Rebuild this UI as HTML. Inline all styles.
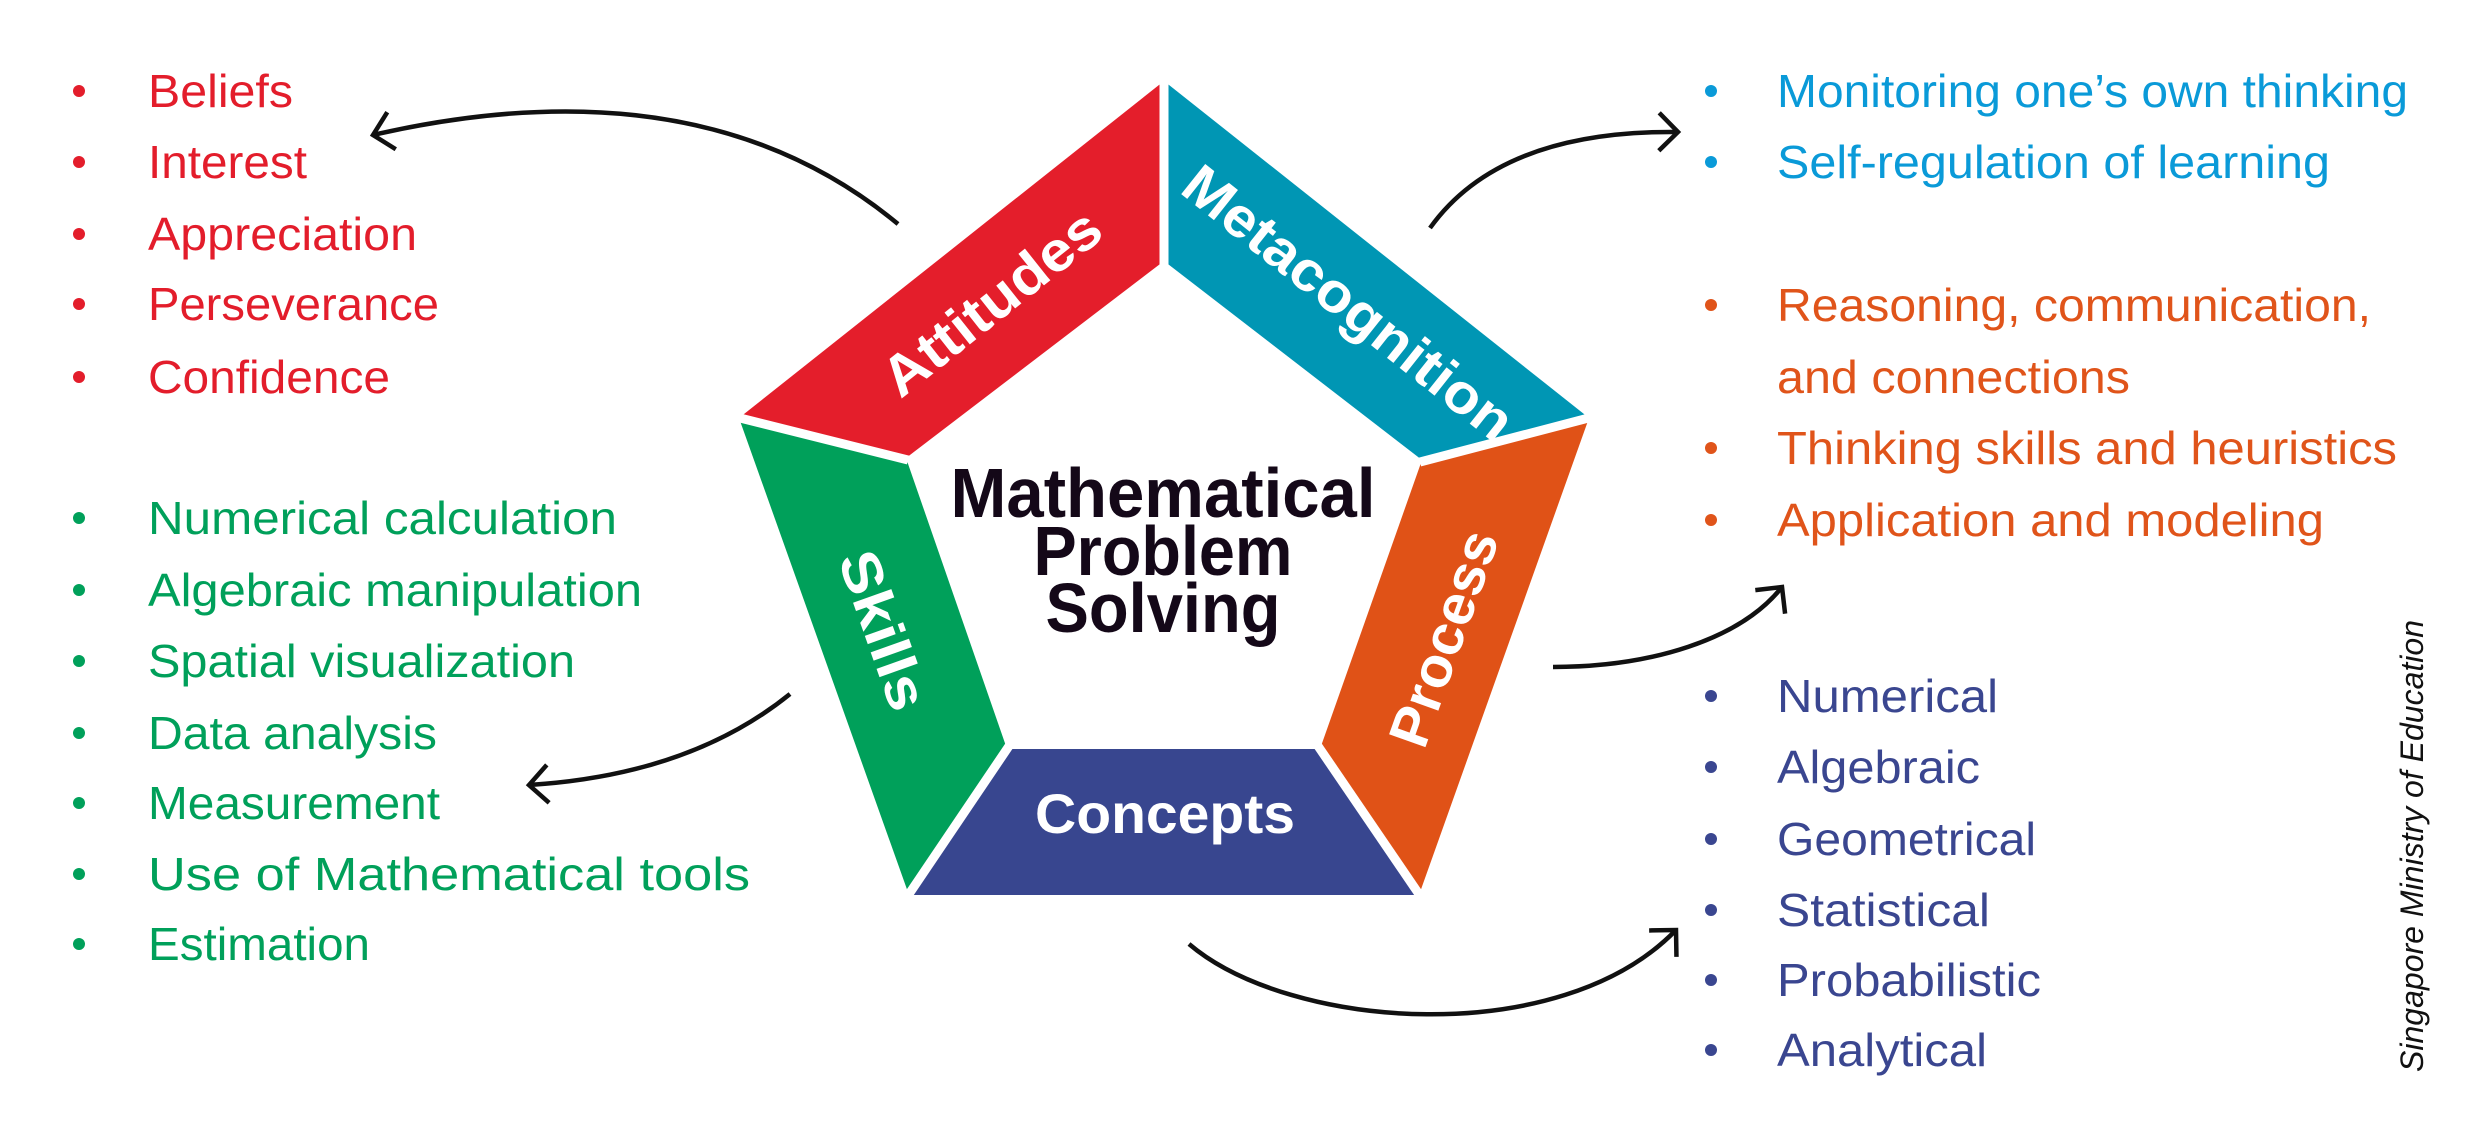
<!DOCTYPE html>
<html><head><meta charset="utf-8"><style>
html,body{margin:0;padding:0;background:#fff;}
svg{display:block;}
text{font-family:"Liberation Sans",sans-serif;}
.l{font-size:46px;}
.lab{font-size:56px;font-weight:bold;fill:#fff;}
</style></head><body>
<svg width="2479" height="1133" viewBox="0 0 2479 1133" xmlns="http://www.w3.org/2000/svg">
<defs>
<marker id="ah" markerUnits="userSpaceOnUse" markerWidth="60" markerHeight="60" refX="30" refY="30" orient="auto">
<path d="M11,11 L30,30 L11,49" fill="none" stroke="#111" stroke-width="4.5"/>
</marker>
</defs>
<polygon points="1164,81 739,418 906,458 1164,261" fill="#e41e2b"/>
<polygon points="1164,81 1589,418 1422,460 1164,261" fill="#0096b4"/>
<polygon points="1589,418 1419,895 1320,749 1422,460" fill="#e05217"/>
<polygon points="1419,895 909,895 1007,749 1320,749" fill="#38468f"/>
<polygon points="909,895 739,418 906,458 1007,749" fill="#00a05a"/>
<g stroke="#fff" stroke-width="9">
<line x1="1164" y1="70" x2="1164" y2="265"/>
<line x1="728" y1="415" x2="908" y2="460"/>
<line x1="1600" y1="415" x2="1420" y2="462"/>
<line x1="903" y1="903" x2="1009" y2="746"/>
<line x1="1425" y1="903" x2="1318" y2="746"/>
</g>
<text class="lab" text-anchor="middle" transform="translate(991,302) rotate(-38.5)" dy="20" textLength="263" lengthAdjust="spacingAndGlyphs">Attitudes</text>
<text class="lab" text-anchor="middle" transform="translate(1349,302) rotate(38.5)" dy="20" textLength="405" lengthAdjust="spacingAndGlyphs">Metacognition</text>
<text class="lab" text-anchor="middle" transform="translate(884,630) rotate(70.4)" dy="20" textLength="165" lengthAdjust="spacingAndGlyphs">Skills</text>
<text class="lab" text-anchor="middle" transform="translate(1443,638) rotate(-70.4)" dy="20" textLength="225" lengthAdjust="spacingAndGlyphs">Process</text>
<text class="lab" x="1165" y="833" text-anchor="middle" textLength="260" lengthAdjust="spacingAndGlyphs">Concepts</text>
<g fill="#140818" font-weight="bold" font-size="70" text-anchor="middle">
<text x="1163" y="517" textLength="425" lengthAdjust="spacingAndGlyphs">Mathematical</text>
<text x="1163" y="575" textLength="259" lengthAdjust="spacingAndGlyphs">Problem</text>
<text x="1163" y="632" textLength="235" lengthAdjust="spacingAndGlyphs">Solving</text>
</g>
<g fill="none" stroke="#111" stroke-width="4.5">
<path d="M898,224 Q700,60 373,135" marker-end="url(#ah)"/>
<path d="M790,694 Q690,775 529,785" marker-end="url(#ah)"/>
<path d="M1430,228 Q1500,130 1678,132" marker-end="url(#ah)"/>
<path d="M1553,667 C1650,667 1740,640 1782,587" marker-end="url(#ah)"/>
<path d="M1189,944 C1290,1030 1560,1050 1676,930" marker-end="url(#ah)"/>
</g>
<g fill="#e31d2b">
<circle cx="79" cy="91" r="6"/><circle cx="79" cy="162" r="6"/><circle cx="79" cy="234" r="6"/><circle cx="79" cy="304" r="6"/><circle cx="79" cy="377" r="6"/>
<text class="l" x="148" y="107" textLength="145" lengthAdjust="spacingAndGlyphs">Beliefs</text>
<text class="l" x="148" y="178" textLength="159" lengthAdjust="spacingAndGlyphs">Interest</text>
<text class="l" x="148" y="250" textLength="269" lengthAdjust="spacingAndGlyphs">Appreciation</text>
<text class="l" x="148" y="320" textLength="291" lengthAdjust="spacingAndGlyphs">Perseverance</text>
<text class="l" x="148" y="393" textLength="242" lengthAdjust="spacingAndGlyphs">Confidence</text>
</g>
<g fill="#00a05a">
<circle cx="79" cy="518" r="6"/><circle cx="79" cy="590" r="6"/><circle cx="79" cy="661" r="6"/><circle cx="79" cy="733" r="6"/><circle cx="79" cy="803" r="6"/><circle cx="79" cy="874" r="6"/><circle cx="79" cy="944" r="6"/>
<text class="l" x="148" y="534" textLength="469" lengthAdjust="spacingAndGlyphs">Numerical calculation</text>
<text class="l" x="148" y="606" textLength="494" lengthAdjust="spacingAndGlyphs">Algebraic manipulation</text>
<text class="l" x="148" y="677" textLength="427" lengthAdjust="spacingAndGlyphs">Spatial visualization</text>
<text class="l" x="148" y="749" textLength="289" lengthAdjust="spacingAndGlyphs">Data analysis</text>
<text class="l" x="148" y="819" textLength="292" lengthAdjust="spacingAndGlyphs">Measurement</text>
<text class="l" x="148" y="890" textLength="602" lengthAdjust="spacingAndGlyphs">Use of Mathematical tools</text>
<text class="l" x="148" y="960" textLength="222" lengthAdjust="spacingAndGlyphs">Estimation</text>
</g>
<g fill="#0a9ad8">
<circle cx="1711" cy="91" r="6"/><circle cx="1711" cy="162" r="6"/>
<text class="l" x="1777" y="107" textLength="631" lengthAdjust="spacingAndGlyphs">Monitoring one’s own thinking</text>
<text class="l" x="1777" y="178" textLength="553" lengthAdjust="spacingAndGlyphs">Self-regulation of learning</text>
</g>
<g fill="#e0541a">
<circle cx="1711" cy="305" r="6"/><circle cx="1711" cy="448" r="6"/><circle cx="1711" cy="520" r="6"/>
<text class="l" x="1777" y="321" textLength="594" lengthAdjust="spacingAndGlyphs">Reasoning, communication,</text>
<text class="l" x="1777" y="393" textLength="353" lengthAdjust="spacingAndGlyphs">and connections</text>
<text class="l" x="1777" y="464" textLength="620" lengthAdjust="spacingAndGlyphs">Thinking skills and heuristics</text>
<text class="l" x="1777" y="536" textLength="547" lengthAdjust="spacingAndGlyphs">Application and modeling</text>
</g>
<g fill="#3a4690">
<circle cx="1711" cy="696" r="6"/><circle cx="1711" cy="767" r="6"/><circle cx="1711" cy="839" r="6"/><circle cx="1711" cy="910" r="6"/><circle cx="1711" cy="980" r="6"/><circle cx="1711" cy="1050" r="6"/>
<text class="l" x="1777" y="712" textLength="221" lengthAdjust="spacingAndGlyphs">Numerical</text>
<text class="l" x="1777" y="783" textLength="203" lengthAdjust="spacingAndGlyphs">Algebraic</text>
<text class="l" x="1777" y="855" textLength="259" lengthAdjust="spacingAndGlyphs">Geometrical</text>
<text class="l" x="1777" y="926" textLength="213" lengthAdjust="spacingAndGlyphs">Statistical</text>
<text class="l" x="1777" y="996" textLength="264" lengthAdjust="spacingAndGlyphs">Probabilistic</text>
<text class="l" x="1777" y="1066" textLength="210" lengthAdjust="spacingAndGlyphs">Analytical</text>
</g>
<text transform="translate(2412,846) rotate(-90)" dy="11" text-anchor="middle" font-size="32" font-style="italic" fill="#111" textLength="452" lengthAdjust="spacingAndGlyphs">Singapore Ministry of Education</text>
</svg>
</body></html>
